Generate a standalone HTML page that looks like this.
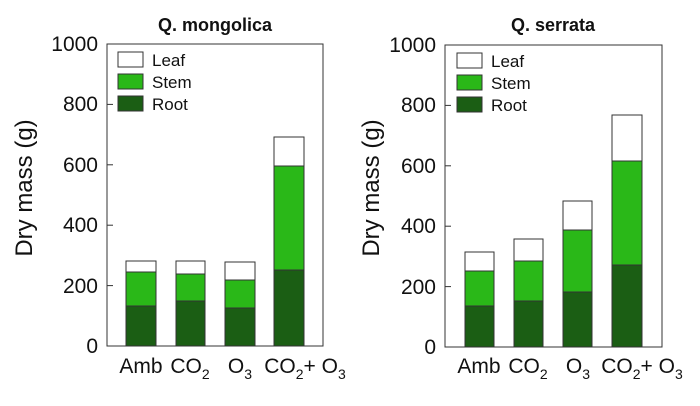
<!DOCTYPE html>
<html><head><style>body{margin:0;background:#fff}svg{display:block}text{font-family:"Liberation Sans",Arial,sans-serif;fill:#111}</style></head><body>
<svg width="700" height="406" viewBox="0 0 700 406">
<g stroke="#333" stroke-width="1">
<rect x="107" y="44" width="216" height="302" fill="none"/>
<line x1="107" y1="285.6" x2="113" y2="285.6"/><line x1="107" y1="225.2" x2="113" y2="225.2"/><line x1="107" y1="164.8" x2="113" y2="164.8"/><line x1="107" y1="104.4" x2="113" y2="104.4"/>
<rect x="126" y="261" width="30" height="11" fill="#fff"/><rect x="126" y="272" width="30" height="34" fill="#2ab818"/><rect x="126" y="306" width="30" height="40" fill="#1b5e14"/>
<rect x="176" y="261" width="29" height="13" fill="#fff"/><rect x="176" y="274" width="29" height="27" fill="#2ab818"/><rect x="176" y="301" width="29" height="45" fill="#1b5e14"/>
<rect x="225" y="262" width="30" height="18" fill="#fff"/><rect x="225" y="280" width="30" height="28" fill="#2ab818"/><rect x="225" y="308" width="30" height="38" fill="#1b5e14"/>
<rect x="274" y="137" width="30" height="29" fill="#fff"/><rect x="274" y="166" width="30" height="104" fill="#2ab818"/><rect x="274" y="270" width="30" height="76" fill="#1b5e14"/>
<rect x="118" y="52" width="25" height="15" fill="#fff"/><rect x="118" y="74" width="25" height="15" fill="#2ab818"/><rect x="118" y="96" width="25" height="15" fill="#1b5e14"/>
<rect x="445" y="45" width="217" height="302" fill="none"/>
<line x1="445" y1="286.6" x2="451" y2="286.6"/><line x1="445" y1="226.2" x2="451" y2="226.2"/><line x1="445" y1="165.8" x2="451" y2="165.8"/><line x1="445" y1="105.4" x2="451" y2="105.4"/>
<rect x="465" y="252" width="29" height="19" fill="#fff"/><rect x="465" y="271" width="29" height="35" fill="#2ab818"/><rect x="465" y="306" width="29" height="41" fill="#1b5e14"/>
<rect x="514" y="239" width="29" height="22" fill="#fff"/><rect x="514" y="261" width="29" height="40" fill="#2ab818"/><rect x="514" y="301" width="29" height="46" fill="#1b5e14"/>
<rect x="563" y="201" width="29" height="29" fill="#fff"/><rect x="563" y="230" width="29" height="62" fill="#2ab818"/><rect x="563" y="292" width="29" height="55" fill="#1b5e14"/>
<rect x="612" y="115" width="30" height="46" fill="#fff"/><rect x="612" y="161" width="30" height="104" fill="#2ab818"/><rect x="612" y="265" width="30" height="82" fill="#1b5e14"/>
<rect x="457" y="53" width="25" height="15" fill="#fff"/><rect x="457" y="75" width="25" height="15" fill="#2ab818"/><rect x="457" y="97" width="25" height="15" fill="#1b5e14"/>
</g>
<g font-size="17"><text x="152" y="66">Leaf</text><text x="152" y="88">Stem</text><text x="152" y="110">Root</text>
<text x="491" y="67">Leaf</text><text x="491" y="89">Stem</text><text x="491" y="111">Root</text></g>
<text x="215" y="31" font-size="18" font-weight="bold" text-anchor="middle">Q. mongolica</text>
<text x="553" y="31" font-size="18" font-weight="bold" text-anchor="middle">Q. serrata</text>
<g font-size="21" text-anchor="end">
<text x="98" y="353">0</text><text x="98" y="293">200</text><text x="98" y="232">400</text><text x="98" y="172">600</text><text x="98" y="111">800</text><text x="98" y="51">1000</text>
<text x="436" y="354">0</text><text x="436" y="294">200</text><text x="436" y="233">400</text><text x="436" y="173">600</text><text x="436" y="112">800</text><text x="436" y="52">1000</text>
</g>
<text transform="translate(32,188) rotate(-90)" font-size="24" text-anchor="middle">Dry mass (g)</text>
<text transform="translate(379,188) rotate(-90)" font-size="24" text-anchor="middle">Dry mass (g)</text>
<g font-size="21" text-anchor="middle">
<text x="141" y="373">Amb</text><text x="190" y="373">CO<tspan font-size="14" dy="6">2</tspan></text><text x="240" y="373">O<tspan font-size="14" dy="6">3</tspan></text><text x="305" y="373">CO<tspan font-size="14" dy="6">2</tspan><tspan dy="-6">+ O</tspan><tspan font-size="14" dy="6">3</tspan></text>
<text x="479" y="373">Amb</text><text x="528" y="373">CO<tspan font-size="14" dy="6">2</tspan></text><text x="578" y="373">O<tspan font-size="14" dy="6">3</tspan></text><text x="642" y="373">CO<tspan font-size="14" dy="6">2</tspan><tspan dy="-6">+ O</tspan><tspan font-size="14" dy="6">3</tspan></text>
</g>
</svg>
</body></html>
